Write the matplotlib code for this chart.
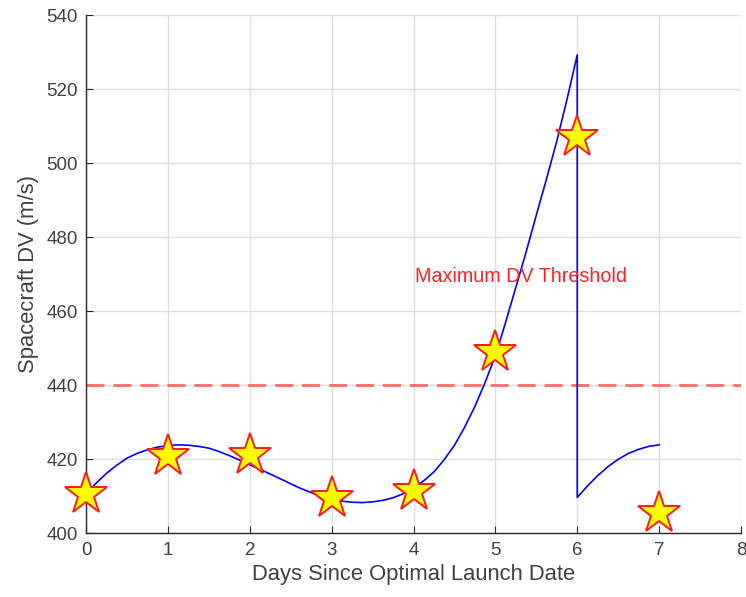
import matplotlib
matplotlib.use("Agg")
import matplotlib.pyplot as plt

plt.rcParams['font.family'] = ['Liberation Sans', 'DejaVu Sans']

# Continuous DV curve: smooth part 0..6, drop at 6, recovery 6..7
curve_x = [0, 0.125, 0.25, 0.375, 0.5, 0.625, 0.75, 0.875, 1.0, 1.125, 1.25, 1.375,
           1.5, 1.625, 1.75, 1.875, 2.0, 2.125, 2.25, 2.375, 2.5, 2.625, 2.75, 2.875,
           3.0, 3.125, 3.25, 3.375, 3.5, 3.625, 3.75, 3.875, 4.0, 4.125, 4.25, 4.375,
           4.5, 4.625, 4.75, 4.875, 5.0, 5.125, 5.25, 5.375, 5.5, 5.625, 5.75, 5.875, 6.0,
           6.0, 6.125, 6.25, 6.375, 6.5, 6.625, 6.75, 6.875, 7.0]
curve_y = [410.5, 413.6, 416.2, 418.4, 420.3, 421.6, 422.6, 423.3, 423.7, 423.9, 423.8, 423.5,
           423.0, 422.1, 421.0, 419.8, 418.5, 417.3, 416.0, 414.7, 413.4, 412.1, 411.0, 410.0,
           409.2, 408.7, 408.4, 408.3, 408.5, 408.9, 409.6, 410.7, 412.2, 414.2, 416.6, 419.9,
           423.8, 428.7, 434.3, 440.8, 448.0, 457.0, 466.5, 476.0, 486.0, 495.8, 506.0, 517.3, 529.3,
           409.7, 412.8, 415.6, 418.0, 420.0, 421.6, 422.7, 423.5, 423.9]

# Star markers at integer days
star_x = [0, 1, 2, 3, 4, 5, 6, 7]
star_y = [410.6, 420.8, 421.2, 409.5, 411.4, 449.1, 507.2, 405.6]

threshold = 440
threshold_label = "Maximum DV Threshold"
x_ticks = [0, 1, 2, 3, 4, 5, 6, 7, 8]
y_ticks = [400, 420, 440, 460, 480, 500, 520, 540]

fig = plt.figure(figsize=(7.46, 5.97), dpi=100)
ax = fig.add_axes([0.1153, 0.1067, 0.878, 0.8677])

ax.plot(curve_x, curve_y, color='#0000FF', lw=1.2, zorder=3)
ax.plot(star_x, star_y, linestyle='none', marker='*', markersize=32,
        markerfacecolor='#FFFF00', markeredgecolor='#FF1A1A', markeredgewidth=1.4,
        zorder=4, clip_on=False)
ax.axhline(threshold, color='#FF6A6A', lw=2, dashes=(6.5, 3.2), zorder=2)
ax.text(4.02, 469.3, threshold_label, color='#FF2020', fontsize=14.2,
        ha='left', va='center', zorder=5)

ax.set_xlim(0, 8)
ax.set_ylim(400, 540)
ax.set_xticks(x_ticks)
ax.set_yticks(y_ticks)
ax.grid(True, color='#DEDEDE', lw=1)
ax.set_axisbelow(True)
for s in ['top', 'right']:
    ax.spines[s].set_visible(False)
for s in ['left', 'bottom']:
    ax.spines[s].set_color('#262626')
    ax.spines[s].set_linewidth(1.0)
ax.tick_params(direction='in', length=5, color='#262626', labelcolor='#404040',
               labelsize=13.5, pad=6)
ax.set_xlabel("Days Since Optimal Launch Date", fontsize=15.8, color='#404040', labelpad=4)
ax.set_ylabel("Spacecraft DV (m/s)", fontsize=15.8, color='#404040', labelpad=5)

fig.savefig("out.png", dpi=100)
